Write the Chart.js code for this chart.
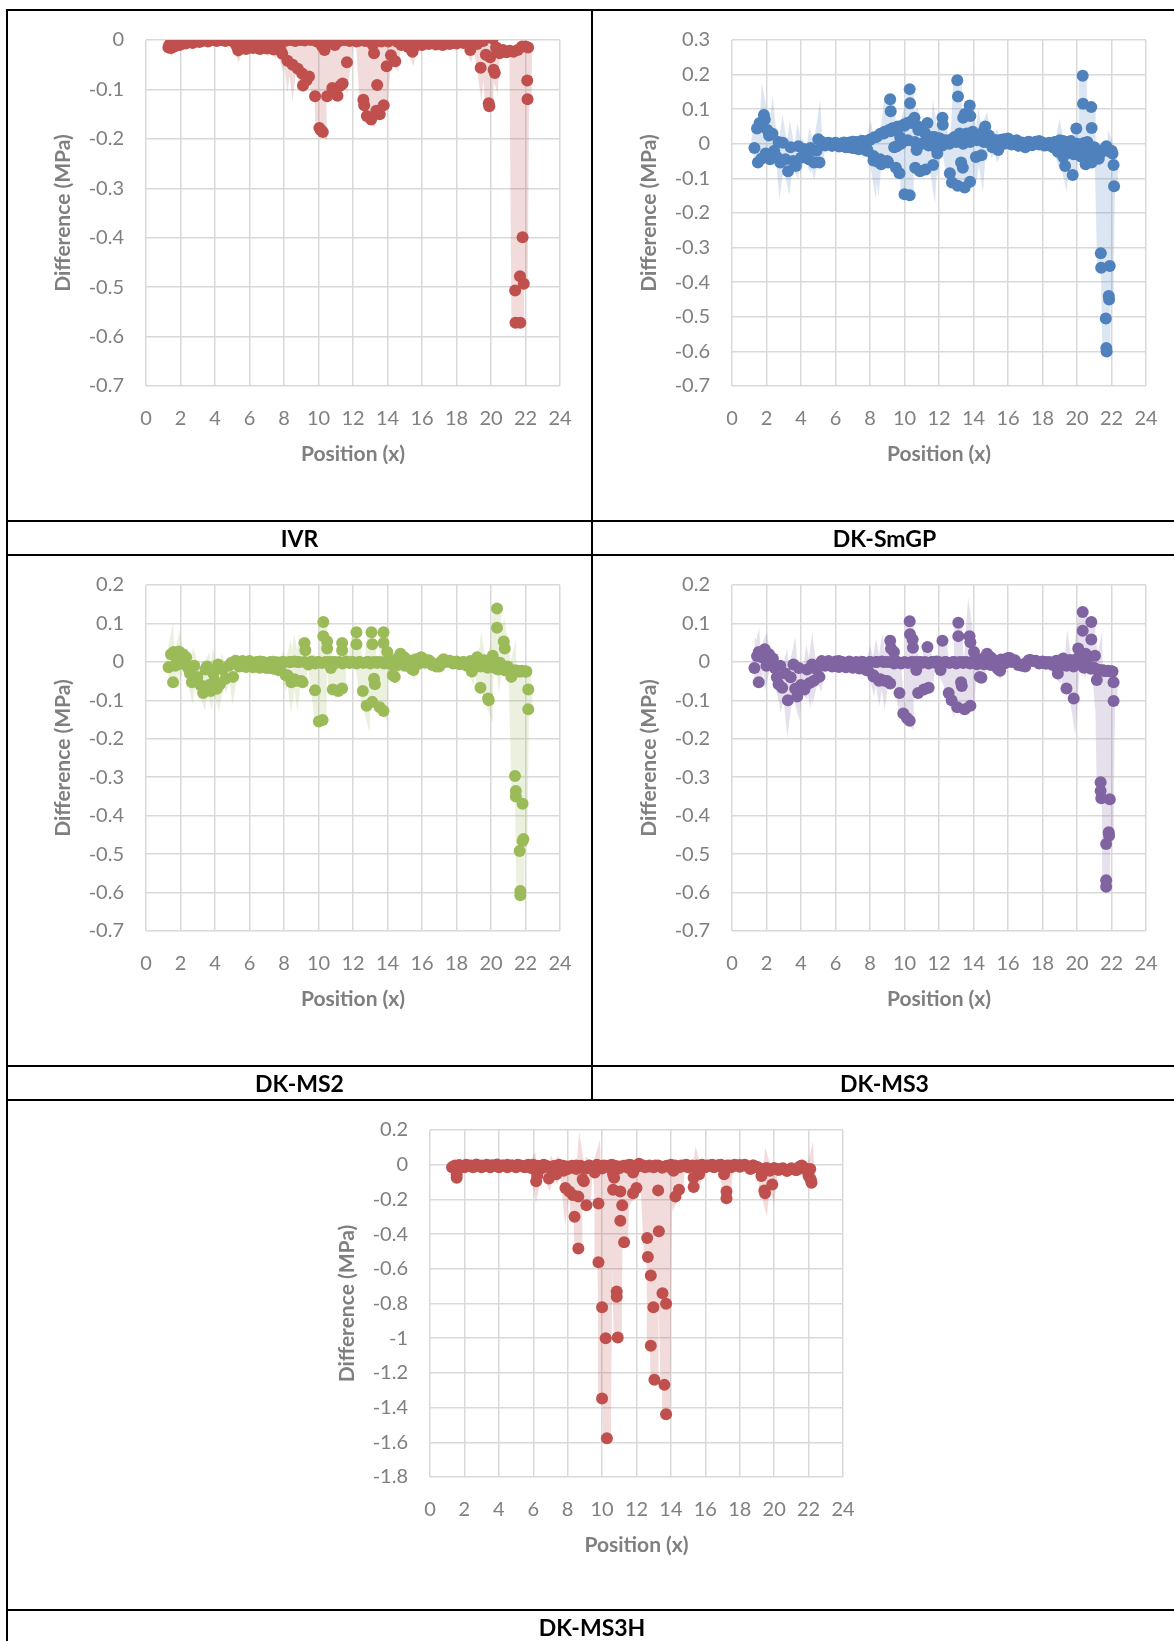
<!DOCTYPE html>
<html><head><meta charset="utf-8">
<script src="https://cdn.jsdelivr.net/npm/chart.js@4.4.0/dist/chart.umd.min.js"></script>
<style>
html,body{margin:0;padding:0;background:#fff;}
body{width:1174px;height:1641px;position:relative;overflow:hidden;font-family:Lato,"Open Sans",sans-serif;}
.ln{position:absolute;background:#000;z-index:5;}
.lab{position:absolute;display:flex;align-items:center;justify-content:center;font-weight:bold;font-size:23px;color:#000;font-family:Lato,sans-serif;z-index:6;}
canvas{position:absolute;}
</style></head>
<body>
<canvas id="c1"></canvas><canvas id="c2"></canvas><canvas id="c3"></canvas><canvas id="c4"></canvas><canvas id="c5"></canvas>
<div class="ln" style="left:6px;top:9px;width:1168px;height:2px"></div>
<div class="ln" style="left:6px;top:9px;width:2px;height:1632px"></div>
<div class="ln" style="left:591px;top:9px;width:2px;height:1091px"></div>
<div class="ln" style="left:6px;top:520px;width:1168px;height:2px"></div>
<div class="ln" style="left:6px;top:554px;width:1168px;height:2px"></div>
<div class="ln" style="left:6px;top:1065px;width:1168px;height:2px"></div>
<div class="ln" style="left:6px;top:1099px;width:1168px;height:2px"></div>
<div class="ln" style="left:6px;top:1609px;width:1168px;height:2px"></div>
<div class="lab" style="left:8px;top:522px;width:583px;height:32px">IVR</div>
<div class="lab" style="left:593px;top:522px;width:583px;height:32px">DK-SmGP</div>
<div class="lab" style="left:8px;top:1067px;width:583px;height:32px">DK-MS2</div>
<div class="lab" style="left:593px;top:1067px;width:583px;height:32px">DK-MS3</div>
<div class="lab" style="left:8px;top:1611px;width:1168px;height:32px">DK-MS3H</div>
<script>
// ---------- DATA ----------
const xTicks = [0,2,4,6,8,10,12,14,16,18,20,22,24];

const ivrX = [1.30,1.35,1.45,1.55,1.65,1.80,1.95,2.10,2.30,2.50,2.70,2.90,3.10,3.35,3.60,3.85,4.10,4.35,4.60,4.85,5.05,5.25,5.35,5.50,5.70,5.90,6.10,6.30,6.50,6.70,6.90,7.10,7.30,7.50,7.70,7.90,8.05,8.20,8.35,8.50,8.65,8.80,8.95,9.05,9.10,9.20,9.30,9.45,9.55,9.80,9.90,10.05,10.15,10.25,10.20,10.35,10.50,10.60,10.80,10.95,11.10,11.20,11.28,11.40,11.50,11.65,11.80,12.00,12.20,12.40,12.60,12.65,12.70,12.80,13.05,13.15,13.22,13.35,13.40,13.55,13.65,13.78,13.95,14.05,14.20,14.45,14.60,14.90,15.20,15.45,15.60,15.90,16.20,16.50,16.80,17.10,17.40,17.70,18.00,18.30,18.60,18.80,18.95,19.20,19.40,19.55,19.70,19.87,19.90,19.95,20.10,20.15,20.22,20.30,20.50,20.70,20.90,21.10,21.30,21.40,21.42,21.55,21.70,21.68,21.80,21.83,21.90,22.00,22.10,22.12,22.15];
const ivrY = [-0.015,-0.010,-0.016,-0.008,-0.013,-0.006,-0.010,-0.004,-0.007,-0.003,-0.006,-0.002,-0.004,-0.001,-0.003,0.000,-0.002,0.000,-0.002,0.001,-0.003,-0.012,-0.021,-0.004,0.001,-0.010,0.000,-0.012,0.001,-0.014,0.000,-0.015,0.000,-0.017,0.000,-0.028,-0.002,-0.042,0.000,-0.050,-0.002,-0.058,0.000,-0.068,-0.092,-0.001,-0.082,-0.074,0.000,-0.114,-0.003,-0.178,-0.183,-0.186,-0.012,-0.020,-0.114,-0.004,-0.097,-0.010,-0.113,-0.002,-0.092,-0.088,0.000,-0.045,-0.002,0.000,-0.003,-0.001,-0.121,-0.132,-0.002,-0.154,-0.161,-0.010,-0.027,-0.143,-0.091,-0.150,-0.003,-0.132,-0.053,-0.003,-0.031,-0.043,0.000,-0.002,0.000,-0.024,-0.001,0.001,-0.002,0.000,-0.003,0.000,-0.002,0.001,-0.001,0.000,-0.002,-0.020,0.000,-0.008,-0.056,-0.002,-0.030,-0.128,-0.134,-0.035,0.003,-0.060,-0.067,-0.015,-0.027,-0.020,-0.025,-0.022,-0.024,-0.507,-0.572,-0.020,-0.572,-0.478,-0.013,-0.399,-0.493,-0.013,-0.082,-0.120,-0.015];
const ivrBandX = [5.2,5.4,5.6,5.8,6.0,6.2,6.4,6.6,6.8,7.0,7.2,7.4,7.6,7.8,14.6,14.8,15.0,15.2,15.4,15.6,15.8,16.0,16.2,16.4,16.6,16.8,17.0,17.2,17.4,17.6,17.8,18.0,18.2,18.4];
const ivrBandY = [-0.005,-0.016,-0.004,-0.018,-0.002,-0.016,-0.003,-0.018,-0.002,-0.017,-0.003,-0.019,-0.002,-0.020,-0.004,-0.010,-0.003,-0.014,-0.020,-0.012,-0.004,-0.010,-0.003,-0.008,-0.002,-0.009,-0.004,-0.010,-0.003,-0.008,-0.002,-0.007,-0.003,-0.006];

const smgpX = [1.30,1.45,1.50,1.60,1.70,1.85,1.90,1.95,2.05,2.15,2.20,2.35,2.45,2.60,2.70,2.80,2.95,3.10,3.25,3.40,3.55,3.70,3.85,4.00,4.15,4.30,4.45,4.55,4.75,4.90,5.00,5.07,5.20,5.40,5.60,5.80,6.00,6.30,6.50,6.80,7.00,7.30,7.50,7.85,8.00,8.20,8.25,8.45,8.60,8.65,8.85,9.05,9.10,9.17,9.20,9.30,9.50,9.55,9.60,9.71,9.75,9.95,10.00,10.15,10.30,10.30,10.32,10.40,10.58,10.62,10.70,10.80,10.90,11.00,11.22,11.33,11.45,11.66,11.75,11.90,12.05,12.20,12.22,12.35,12.63,12.70,12.75,12.90,13.06,13.10,13.08,13.20,13.28,13.38,13.40,13.49,13.50,13.60,13.78,13.80,13.82,13.95,14.14,14.30,14.46,14.55,14.68,14.80,14.90,15.10,15.30,15.43,15.60,15.76,16.00,16.20,16.50,16.80,17.00,17.20,17.50,17.80,18.10,18.40,18.70,18.89,19.00,19.20,19.31,19.45,19.64,19.75,19.85,19.96,20.10,20.30,20.33,20.35,20.45,20.50,20.60,20.70,20.83,20.85,20.85,21.00,21.15,21.26,21.38,21.40,21.50,21.67,21.70,21.72,21.70,21.84,21.86,21.90,22.00,22.06,22.12,22.15];
const smgpY = [-0.012,0.044,-0.054,0.060,-0.043,0.083,0.070,-0.028,0.040,0.024,-0.045,0.029,-0.020,-0.038,0.005,-0.054,0.003,-0.045,-0.079,-0.010,-0.050,-0.064,-0.007,-0.040,-0.015,-0.028,-0.045,-0.012,-0.054,-0.020,0.013,-0.054,0.005,-0.002,0.002,-0.004,0.003,-0.006,0.004,-0.010,0.006,-0.015,0.008,-0.018,0.012,-0.048,0.019,-0.052,0.029,-0.059,0.035,-0.054,0.040,0.129,0.094,0.045,-0.069,-0.007,0.050,-0.085,0.019,0.055,-0.146,0.060,-0.149,0.158,0.117,0.065,0.075,-0.069,-0.018,0.050,-0.079,0.044,-0.074,0.060,0.010,-0.061,0.020,-0.028,0.015,0.075,0.055,0.005,-0.085,0.010,-0.112,0.020,0.184,0.137,-0.121,0.030,-0.054,-0.069,0.075,-0.126,0.086,0.030,0.111,-0.110,0.080,0.035,-0.038,0.020,-0.033,0.035,0.050,0.005,0.024,-0.010,0.010,-0.018,0.002,0.013,0.015,0.005,0.010,0.000,-0.010,0.005,0.000,0.008,-0.005,0.002,0.005,-0.023,0.010,-0.038,-0.064,0.005,0.008,-0.090,-0.020,0.044,-0.030,-0.038,0.197,0.116,-0.010,-0.059,0.005,-0.030,0.106,0.046,-0.054,-0.010,-0.018,-0.043,-0.316,-0.358,-0.020,-0.505,-0.590,-0.600,-0.007,-0.440,-0.450,-0.353,-0.020,-0.028,-0.061,-0.123];
const smgpBandX = [5.2,5.4,5.6,5.8,6.0,6.2,6.4,6.6,6.8,7.0,7.2,7.4,7.6,7.8,8.0,8.2,8.4,8.6,8.8,9.0,9.2,9.4,9.6,9.8,10.0,10.2,10.4,10.6,10.8,11.0,11.2,11.4,11.6,11.8,12.0,12.2,12.4,12.6,12.8,13.0,13.2,13.4,13.6,13.8,14.0,14.2,14.4,14.6,14.8,15.0,15.2,15.4,15.6,15.8,16.0,16.2,16.4,16.6,16.8,17.0,17.2,17.4,17.6,17.8,18.0,18.2,18.4,18.6,18.8,19.0,19.2,19.4,19.6,19.8,20.0,20.2,20.4,20.6,20.8,21.0,21.2,21.4,21.6,21.8,22.0];
const smgpBandY = [0.005,-0.005,0.003,-0.006,0.002,-0.008,0.002,-0.010,0.004,-0.012,0.005,-0.015,0.008,-0.020,0.012,-0.035,0.020,-0.045,0.030,-0.050,0.036,-0.010,0.045,0.000,0.052,0.010,0.060,0.005,0.040,0.000,0.030,-0.005,0.020,-0.010,0.015,-0.005,0.010,0.000,0.015,0.005,0.020,0.000,0.025,0.005,0.030,0.010,0.025,0.005,0.020,0.000,0.010,-0.008,0.012,0.000,0.012,-0.002,0.008,-0.006,0.004,-0.008,0.006,-0.004,0.006,-0.002,0.004,-0.004,0.003,-0.010,0.005,-0.020,0.008,-0.025,0.005,-0.030,0.000,-0.035,0.002,-0.040,-0.010,-0.040,-0.020,-0.025,-0.015,-0.020,-0.025];

const ms2X = [1.31,1.45,1.57,1.60,1.70,1.79,1.90,2.00,2.15,2.33,2.44,2.55,2.66,2.80,2.98,3.15,3.31,3.45,3.53,3.65,3.75,3.90,3.97,4.10,4.18,4.29,4.45,4.62,4.80,4.95,5.05,5.20,5.49,5.80,6.00,6.36,6.60,7.00,7.23,7.40,7.67,7.90,8.10,8.30,8.43,8.60,8.76,8.90,9.08,9.19,9.24,9.41,9.60,9.80,9.95,10.02,10.24,10.28,10.28,10.50,10.50,10.60,10.72,10.83,10.95,11.15,11.37,11.37,11.37,11.60,11.90,12.20,12.20,12.35,12.57,12.79,12.90,13.07,13.12,13.12,13.22,13.27,13.40,13.55,13.77,13.77,13.77,13.99,14.15,14.31,14.42,14.60,14.75,14.97,15.20,15.40,15.51,15.73,15.95,16.20,16.50,16.82,17.00,17.25,17.60,17.90,18.13,18.40,18.70,18.89,19.00,19.20,19.39,19.50,19.83,19.87,19.95,20.10,20.35,20.35,20.52,20.74,20.80,20.96,21.10,21.18,21.25,21.39,21.44,21.44,21.55,21.66,21.70,21.70,21.75,21.83,21.83,21.88,22.00,22.05,22.16,22.16];
const ms2Y = [-0.014,0.020,-0.053,0.026,-0.010,0.007,0.027,-0.005,0.020,0.012,-0.016,-0.030,-0.053,-0.010,-0.039,-0.060,-0.081,-0.020,-0.012,-0.060,-0.076,-0.030,-0.049,-0.070,-0.007,-0.058,-0.020,-0.044,-0.010,-0.002,-0.039,0.003,-0.002,-0.008,0.002,-0.012,0.001,-0.014,-0.016,0.000,-0.021,0.000,-0.035,0.000,-0.053,0.001,-0.049,0.000,-0.053,0.049,0.030,-0.007,0.001,-0.074,0.000,-0.155,-0.151,0.104,0.067,0.053,0.035,0.000,-0.016,-0.072,0.000,-0.076,-0.069,0.049,0.030,0.001,0.000,0.077,0.046,0.000,-0.076,-0.114,0.000,0.077,0.046,-0.104,-0.044,-0.058,0.000,-0.118,-0.128,0.077,0.049,0.026,0.000,-0.035,-0.039,0.010,0.021,0.012,0.000,-0.010,-0.021,0.007,0.012,0.005,0.000,-0.012,-0.003,0.007,0.002,-0.002,-0.002,0.000,-0.005,-0.025,0.000,0.012,-0.067,-0.005,-0.095,-0.100,0.000,0.016,0.139,0.089,-0.002,0.053,0.035,-0.012,-0.020,-0.039,-0.025,-0.297,-0.336,-0.350,-0.023,-0.492,-0.596,-0.607,-0.025,-0.369,-0.466,-0.461,-0.025,-0.025,-0.072,-0.123];
const ms2BandX = [5.2,5.4,5.6,5.8,6.0,6.2,6.4,6.6,6.8,7.0,7.2,7.4,7.6,7.8,8.0,8.2,8.4,8.6,8.8,9.0,9.2,9.4,9.6,9.8,10.0,10.2,10.4,10.6,10.8,11.0,11.2,11.4,11.6,11.8,12.0,12.2,12.4,12.6,12.8,13.0,13.2,13.4,13.6,13.8,14.0,14.2,14.4,14.6,14.8,15.0,15.2,15.4,15.6,15.8,16.0,16.2,16.4,16.6,16.8,17.0,17.2,17.4,17.6,17.8,18.0,18.2,18.4,18.6,18.8,19.0,19.2,19.4,19.6,19.8,20.0,20.2,20.4,20.6,20.8,21.0,21.2,21.4,21.6,21.8,22.0];
const ms2BandY = [0.000,-0.012,0.002,-0.013,0.001,-0.014,0.000,-0.015,0.000,-0.016,0.000,-0.018,-0.001,-0.022,0.000,-0.035,0.000,-0.045,0.000,-0.050,0.000,-0.005,0.000,-0.004,0.000,-0.003,0.000,-0.004,0.000,-0.003,0.000,-0.004,0.000,-0.003,0.000,-0.004,0.000,-0.003,0.000,-0.004,0.000,-0.003,0.000,-0.004,0.002,-0.006,0.004,-0.008,0.008,-0.010,0.004,-0.018,0.006,-0.005,0.010,-0.002,0.004,-0.008,-0.010,-0.012,0.004,0.000,0.003,-0.004,0.001,-0.006,0.000,-0.010,0.002,-0.015,0.005,-0.012,0.004,-0.015,0.006,-0.015,-0.020,-0.018,-0.022,-0.020,-0.024,-0.022,-0.025,-0.023,-0.025];

const ms3X = [1.30,1.45,1.55,1.55,1.73,1.90,2.00,2.15,2.37,2.48,2.60,2.70,2.80,2.91,3.10,3.24,3.40,3.56,3.66,3.78,3.88,4.00,4.20,4.35,4.50,4.64,4.75,4.90,5.07,5.20,5.61,5.90,6.20,6.48,6.80,7.10,7.34,7.50,7.88,8.00,8.20,8.35,8.53,8.70,8.85,9.00,9.17,9.17,9.22,9.39,9.55,9.71,9.93,10.14,10.30,10.30,10.32,10.47,10.49,10.60,10.68,10.79,10.95,11.12,11.33,11.40,11.60,11.85,12.09,12.20,12.35,12.56,12.73,12.90,13.06,13.12,13.12,13.28,13.32,13.40,13.49,13.77,13.82,13.82,14.03,14.20,14.36,14.46,14.60,14.79,15.00,15.20,15.40,15.54,15.86,16.10,16.40,16.70,17.00,17.30,17.60,17.90,18.20,18.50,18.89,19.00,19.20,19.39,19.50,19.81,19.95,20.07,20.33,20.33,20.50,20.83,20.83,21.04,21.15,21.26,21.37,21.37,21.41,21.50,21.60,21.69,21.69,21.69,21.75,21.84,21.86,21.90,22.00,22.06,22.12,22.12];
const ms3Y = [-0.016,0.015,-0.053,0.026,0.012,0.033,-0.010,0.020,0.009,-0.016,-0.040,-0.058,-0.010,-0.067,-0.030,-0.100,-0.040,-0.007,-0.070,-0.090,-0.016,-0.060,-0.072,-0.020,-0.055,-0.007,-0.049,-0.020,-0.039,0.002,-0.002,-0.008,0.002,-0.010,0.001,-0.014,-0.016,0.000,-0.021,0.000,-0.038,0.000,-0.049,0.001,-0.049,0.000,-0.056,0.055,0.035,0.026,0.000,-0.081,-0.134,-0.146,-0.153,0.106,0.072,0.058,0.037,0.000,-0.021,-0.081,0.000,-0.072,0.039,-0.067,0.000,0.001,-0.021,0.055,0.000,-0.081,-0.100,0.000,-0.118,0.102,0.067,-0.053,-0.063,0.000,-0.123,0.067,0.051,-0.114,0.026,0.000,-0.039,-0.041,0.010,0.021,0.012,0.000,-0.010,-0.023,0.007,0.010,0.002,-0.008,-0.004,0.005,0.002,-0.003,0.000,-0.004,-0.030,0.001,0.009,-0.069,-0.005,-0.095,0.000,0.035,0.130,0.081,0.021,0.104,0.058,0.016,-0.047,-0.021,-0.313,-0.336,-0.355,-0.022,-0.023,-0.474,-0.568,-0.585,-0.024,-0.443,-0.452,-0.357,-0.025,-0.025,-0.053,-0.102];
const ms3BandX = [5.2,5.4,5.6,5.8,6.0,6.2,6.4,6.6,6.8,7.0,7.2,7.4,7.6,7.8,8.0,8.2,8.4,8.6,8.8,9.0,9.2,9.4,9.6,9.8,10.0,10.2,10.4,10.6,10.8,11.0,11.2,11.4,11.6,11.8,12.0,12.2,12.4,12.6,12.8,13.0,13.2,13.4,13.6,13.8,14.0,14.2,14.4,14.6,14.8,15.0,15.2,15.4,15.6,15.8,16.0,16.2,16.4,16.6,16.8,17.0,17.2,17.4,17.6,17.8,18.0,18.2,18.4,18.6,18.8,19.0,19.2,19.4,19.6,19.8,20.0,20.2,20.4,20.6,20.8,21.0,21.2,21.4,21.6,21.8,22.0];
const ms3BandY = [0.000,-0.010,0.002,-0.012,0.001,-0.013,0.000,-0.014,0.000,-0.015,0.000,-0.017,0.000,-0.022,0.000,-0.035,0.000,-0.045,0.000,-0.050,0.000,-0.004,0.000,-0.004,0.000,-0.003,0.000,-0.004,0.000,-0.003,0.000,-0.004,0.000,-0.003,0.000,-0.004,0.000,-0.003,0.000,-0.004,0.000,-0.003,0.000,-0.004,0.002,-0.006,0.004,-0.006,0.010,-0.008,0.004,-0.018,0.006,-0.004,0.010,0.000,0.004,-0.008,-0.010,-0.012,0.004,0.002,0.003,-0.004,0.001,-0.005,0.000,-0.008,0.003,-0.012,0.006,-0.010,0.005,-0.012,0.008,0.012,-0.015,0.005,-0.018,-0.015,-0.022,-0.022,-0.024,-0.023,-0.025];

const ms3hX = [1.28,1.45,1.55,1.55,1.70,1.90,2.10,2.40,2.70,3.00,3.30,3.60,3.90,4.20,4.50,4.80,5.10,5.40,5.70,5.90,6.00,6.17,6.23,6.40,6.60,6.91,7.10,7.34,7.50,7.77,7.87,8.00,8.09,8.30,8.40,8.50,8.62,8.62,8.75,8.87,8.94,9.09,9.25,9.40,9.57,9.70,9.79,9.79,9.90,10.00,10.00,10.10,10.21,10.28,10.40,10.55,10.64,10.64,10.70,10.85,10.85,10.91,10.98,11.06,11.06,11.17,11.28,11.40,11.60,11.80,11.80,12.00,12.15,12.40,12.62,12.66,12.75,12.83,12.83,12.98,13.04,13.09,13.26,13.30,13.40,13.51,13.62,13.72,13.72,13.85,14.00,14.15,14.26,14.47,14.60,14.90,15.10,15.32,15.32,15.50,15.64,15.80,16.10,16.40,16.70,16.90,17.09,17.23,17.23,17.40,17.70,18.00,18.30,18.62,18.80,19.05,19.26,19.43,19.47,19.60,19.89,20.00,20.30,20.50,20.74,21.00,21.30,21.60,21.80,22.00,22.10,22.13,22.17];
const ms3hY = [-0.015,-0.005,-0.075,-0.055,-0.002,-0.008,0.000,-0.005,0.001,-0.004,0.000,-0.003,0.001,-0.004,0.000,-0.005,0.000,-0.008,0.000,-0.020,0.000,-0.095,-0.065,-0.010,0.000,-0.080,-0.010,-0.055,0.000,-0.035,-0.134,-0.010,-0.154,-0.174,-0.300,-0.005,-0.483,-0.184,-0.010,-0.085,-0.095,-0.234,-0.005,-0.020,-0.045,0.000,-0.224,-0.562,-0.010,-0.821,-1.348,-0.005,-1.000,-1.577,-0.010,0.000,-0.055,-0.144,-0.075,-0.731,-0.761,-0.996,-0.010,-0.154,-0.323,-0.234,-0.447,-0.005,0.000,-0.045,-0.164,-0.134,0.005,-0.005,-0.423,-0.532,-0.010,-0.638,-1.044,-0.821,-1.239,-0.005,-0.148,-0.383,-0.010,-0.741,-1.269,-0.801,-1.438,-0.010,0.000,-0.035,-0.184,-0.144,-0.005,0.000,-0.010,-0.075,-0.128,-0.005,-0.055,0.000,-0.005,0.000,-0.005,0.000,-0.055,-0.154,-0.194,-0.005,0.000,-0.002,0.000,-0.025,-0.005,-0.015,-0.065,-0.148,-0.164,-0.020,-0.114,-0.020,-0.025,-0.020,-0.035,-0.025,-0.030,-0.005,-0.020,-0.065,-0.025,-0.085,-0.104];
const ms3hBandX = [2.00,2.25,2.50,2.75,3.00,3.25,3.50,3.75,4.00,4.25,4.50,4.75,5.00,5.25,5.50,5.75,6.00,6.25,6.50,6.75,7.00,7.25,7.50,7.75,8.00,8.25,8.50,8.75,9.00,9.25,9.50,9.75,10.00,10.25,10.50,10.75,11.00,11.25,11.50,11.75,12.00,12.25,12.50,12.75,13.00,13.25,13.50,13.75,14.00,14.25,14.50,14.75,15.00,15.25,15.50,15.75,16.00,16.25,16.50,16.75,17.00,17.25,17.50,17.75,18.00,18.25,18.50,18.75,19.00,19.25,19.50,19.75,20.00,20.25,20.50,20.75,21.00,21.25,21.50,21.75,22.00];
const ms3hBandY = [-0.015,-0.004,-0.015,-0.004,-0.015,-0.004,-0.015,-0.004,-0.015,-0.004,-0.015,-0.004,-0.015,-0.004,-0.015,-0.004,-0.018,-0.006,-0.020,-0.006,-0.020,-0.006,-0.022,-0.006,-0.025,-0.006,-0.025,-0.006,-0.025,-0.006,-0.022,-0.006,-0.022,-0.006,-0.020,-0.006,-0.020,-0.006,-0.018,-0.004,-0.015,-0.004,-0.015,-0.004,-0.015,-0.004,-0.018,-0.006,-0.018,-0.004,-0.015,-0.004,-0.015,-0.004,-0.015,-0.004,-0.015,-0.004,-0.015,-0.004,-0.015,-0.004,-0.015,-0.004,-0.012,-0.004,-0.012,-0.004,-0.015,-0.030,-0.020,-0.035,-0.020,-0.030,-0.025,-0.035,-0.020,-0.030,-0.010,-0.025,-0.030];

// ---------- CHARTS ----------
const FONT = 'Lato, "Open Sans", sans-serif';
const GRAY = '#7f7f7f';
function pts(xs, ys){ return xs.map((x,i)=>({x:x, y:ys[i]})); }
function fmt(v){ const r = Math.round(v*10)/10; return (r === 0 ? 0 : r).toString(); }

function makeChart(id, xs, ys, bx, by, rgb, yMin, yMax, yStep, plot){
  const padL = 138, padT = 40, padR = 36, xH = 125;
  const cv = document.getElementById(id);
  const W = padL + plot.w + padR, H = padT + plot.h + xH;
  cv.width = W; cv.height = H;
  cv.style.left = (plot.left - padL) + 'px';
  cv.style.top = (plot.top - padT) + 'px';
  cv.style.width = W + 'px'; cv.style.height = H + 'px';
  const solid = 'rgb(' + rgb + ')';
  new Chart(cv, {
    type: 'scatter',
    data: { datasets: [{
      data: pts(xs, ys),
      showLine: true,
      borderColor: 'rgba(' + rgb + ',0.2)',
      borderWidth: 8,
      backgroundColor: solid,
      pointBackgroundColor: solid,
      pointBorderColor: solid,
      pointBorderWidth: 0,
      pointRadius: 6,
      tension: 0
    }, {
      data: pts(bx, by),
      showLine: false,
      backgroundColor: solid,
      pointBackgroundColor: solid,
      pointBorderColor: solid,
      pointBorderWidth: 0,
      pointRadius: 6
    }]},
    options: {
      responsive: false, animation: false, devicePixelRatio: 1,
      layout: { padding: { left: 0, top: padT, right: padR, bottom: 0 } },
      plugins: { legend: { display: false }, tooltip: { enabled: false } },
      scales: {
        x: {
          type: 'linear', min: 0, max: 24,
          afterBuildTicks: s => { s.ticks = xTicks.map(v => ({value: v})); },
          ticks: { color: GRAY, font: { family: FONT, size: 20 }, padding: 21, maxRotation: 0, autoSkip: false, callback: v => String(v) },
          grid: { color: '#d9d9d9', lineWidth: 1.5, drawTicks: false },
          border: { display: false },
          title: { display: true, text: 'Position (x)', color: GRAY, font: { family: FONT, size: 21, weight: 'bold' }, padding: { top: 0, bottom: 44 } },
          afterFit: s => { s.height = xH; }
        },
        y: {
          min: yMin, max: yMax,
          ticks: { stepSize: yStep, color: GRAY, font: { family: FONT, size: 20 }, padding: 22, autoSkip: false, callback: v => fmt(v) },
          grid: { color: '#d9d9d9', lineWidth: 1.5, drawTicks: false },
          border: { display: false },
          title: { display: true, text: 'Difference (MPa)', color: GRAY, font: { family: FONT, size: 21, weight: 'bold' }, padding: { top: 43, bottom: 0 } },
          afterFit: s => { s.width = padL; }
        }
      }
    }
  });
}

const RED = '192,80,77', BLUE = '79,129,189', GREEN = '155,187,89', PURPLE = '128,100,162';
makeChart('c1', ivrX, ivrY, ivrBandX, ivrBandY, RED, -0.7, 0, 0.1, {left:146, top:40, w:414, h:346});
makeChart('c2', smgpX, smgpY, smgpBandX, smgpBandY, BLUE, -0.7, 0.3, 0.1, {left:732, top:40, w:414, h:346});
makeChart('c3', ms2X, ms2Y, ms2BandX, ms2BandY, GREEN, -0.7, 0.2, 0.1, {left:146, top:585, w:414, h:346});
makeChart('c4', ms3X, ms3Y, ms3BandX, ms3BandY, PURPLE, -0.7, 0.2, 0.1, {left:732, top:585, w:414, h:346});
makeChart('c5', ms3hX, ms3hY, ms3hBandX, ms3hBandY, RED, -1.8, 0.2, 0.2, {left:430, top:1130, w:413, h:347});
</script>
</body></html>
